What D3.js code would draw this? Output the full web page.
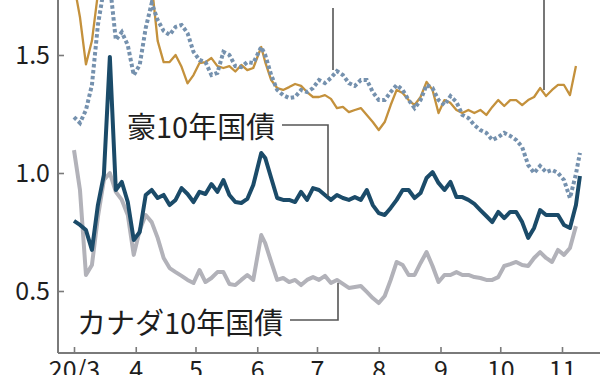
<!DOCTYPE html>
<html><head><meta charset="utf-8">
<script src="https://cdn.jsdelivr.net/npm/d3@7"></script>
<style>
html,body{margin:0;padding:0;background:#fff;}
svg{display:block;}
text{font-family:"Noto Sans CJK JP","Noto Sans",sans-serif;fill:#1e1e1e;}
</style></head>
<body>
<svg id="chart" width="600" height="375"></svg>
<script>
const dates = ["2020-03-01","2020-03-04","2020-03-07","2020-03-10","2020-03-13","2020-03-16","2020-03-19","2020-03-22","2020-03-25","2020-03-28","2020-03-31",
"2020-04-03","2020-04-06","2020-04-09","2020-04-12","2020-04-15","2020-04-18","2020-04-21","2020-04-24","2020-04-27","2020-04-30",
"2020-05-03","2020-05-06","2020-05-09","2020-05-12","2020-05-15","2020-05-18","2020-05-21","2020-05-24","2020-05-27","2020-05-30",
"2020-06-03","2020-06-05","2020-06-08","2020-06-11","2020-06-14","2020-06-17","2020-06-20","2020-06-23","2020-06-26","2020-06-29",
"2020-07-02","2020-07-05","2020-07-08","2020-07-11","2020-07-14","2020-07-17","2020-07-20","2020-07-23","2020-07-26","2020-07-29",
"2020-08-01","2020-08-04","2020-08-07","2020-08-10","2020-08-13","2020-08-16","2020-08-19","2020-08-22","2020-08-25","2020-08-28","2020-08-31",
"2020-09-03","2020-09-06","2020-09-09","2020-09-12","2020-09-15","2020-09-18","2020-09-21","2020-09-24","2020-09-27","2020-09-30",
"2020-10-03","2020-10-06","2020-10-09","2020-10-12","2020-10-15","2020-10-18","2020-10-21","2020-10-24","2020-10-27","2020-10-30",
"2020-11-02","2020-11-05","2020-11-08","2020-11-10"];

// gold solid series (upper, partly above the visible area)
const goldSeries = [1.80,1.66,1.46,1.56,1.76,1.86,1.92,1.88,1.84,1.90,1.86,
1.82,1.85,1.80,1.56,1.47,1.47,1.50,1.45,1.38,1.415,
1.466,1.47,1.487,1.453,1.445,1.453,1.43,1.458,1.436,1.445,
1.534,1.47,1.394,1.36,1.352,1.364,1.377,1.369,1.343,1.322,
1.322,1.33,1.314,1.275,1.28,1.258,1.267,1.275,1.246,1.216,
1.182,1.216,1.288,1.352,1.339,1.309,1.288,1.322,1.386,1.352,1.254,
1.309,1.297,1.267,1.254,1.267,1.254,1.267,1.246,1.28,1.309,
1.284,1.309,1.309,1.288,1.309,1.322,1.36,1.326,1.352,1.373,
1.373,1.33,1.453,null];

// dotted steel-blue series
const dottedSeries = [1.237,1.212,1.267,1.373,1.627,1.78,1.80,1.564,1.597,1.542,1.415,
1.458,1.614,1.72,1.648,1.602,1.585,1.619,1.627,1.593,1.513,
1.479,1.47,1.415,1.424,1.513,1.50,1.453,1.449,1.47,1.466,
1.534,1.50,1.415,1.352,1.33,1.318,1.322,1.352,1.343,1.36,
1.394,1.381,1.403,1.432,1.415,1.381,1.369,1.394,1.394,1.343,
1.309,1.309,1.343,1.373,1.352,1.309,1.275,1.309,1.373,1.36,1.309,
1.288,1.326,1.301,1.246,1.233,1.203,1.182,1.17,1.14,1.152,
1.17,1.157,1.14,1.11,1.034,1.0,1.03,1.004,1.013,1.0,
0.97,0.894,0.996,1.085];

// 豪10年国債
const ausSeries = [0.797,0.78,0.758,0.674,0.864,0.992,1.492,0.928,0.962,0.877,0.716,
0.75,0.907,0.928,0.894,0.907,0.864,0.886,0.936,0.911,0.877,
0.92,0.911,0.953,0.92,0.97,0.907,0.877,0.873,0.89,0.949,
1.085,1.064,0.979,0.894,0.886,0.886,0.877,0.92,0.886,0.936,
0.928,0.907,0.886,0.907,0.894,0.886,0.898,0.886,0.928,0.864,
0.83,0.822,0.852,0.886,0.928,0.928,0.894,0.915,0.979,1.004,0.958,
0.928,0.962,0.898,0.898,0.886,0.869,0.843,0.818,0.792,0.835,
0.809,0.835,0.835,0.792,0.725,0.767,0.843,0.822,0.822,0.822,
0.78,0.767,0.864,0.987];

// カナダ10年国債
const canSeries = [1.097,0.928,0.568,0.61,0.814,0.97,1.0,0.92,0.886,0.822,0.653,
0.758,0.822,0.792,0.725,0.64,0.597,0.58,0.564,0.547,0.534,
0.589,0.538,0.555,0.58,0.58,0.53,0.525,0.547,0.568,0.547,
0.737,0.703,0.623,0.547,0.555,0.538,0.547,0.525,0.547,0.559,
0.547,0.564,0.534,0.547,0.53,0.513,0.517,0.521,0.496,0.47,
0.449,0.479,0.547,0.623,0.61,0.568,0.568,0.619,0.665,0.606,0.538,
0.568,0.568,0.58,0.568,0.568,0.559,0.555,0.547,0.547,0.559,
0.606,0.614,0.623,0.61,0.606,0.64,0.665,0.64,0.623,0.674,
0.653,0.682,0.775,null];

const xTickDates = ["2020-03-01","2020-04-01","2020-05-01","2020-06-01","2020-07-01","2020-08-01","2020-09-01","2020-10-01","2020-11-01"];
const xTickLabels = ["20/3","4","5","6","7","8","9","10","11"];
const yTickValues = [0.5,1.0,1.5];
const yTickLabels = ["0.5","1.0","1.5"];

const parse = d3.timeParse("%Y-%m-%d");
const svg = d3.select("#chart");

const x = d3.scaleTime()
  .domain([parse("2020-03-01"), parse("2020-11-01")])
  .range([74, 562]);
const y = d3.scaleLinear().domain([0.5, 1.5]).range([291, 55]);

const axisX0 = 58, axisY0 = 353;
const axisColor = "#7a7a7a";

// series lines
const lineGen = d3.line()
  .defined(d => d.v != null)
  .x(d => x(d.t)).y(d => y(d.v));
function rows(vals){ return dates.map((s,i)=>({t:parse(s), v:vals[i]})); }

const plot = svg.append("g");
plot.append("path").datum(rows(canSeries)).attr("d", lineGen)
  .attr("fill","none").attr("stroke","#b2b2b9").attr("stroke-width",4).attr("stroke-linejoin","round");
plot.append("path").datum(rows(ausSeries)).attr("d", lineGen)
  .attr("fill","none").attr("stroke","#1b4b69").attr("stroke-width",4).attr("stroke-linejoin","round");
plot.append("path").datum(rows(goldSeries)).attr("d", lineGen)
  .attr("fill","none").attr("stroke","#c4913c").attr("stroke-width",2.3).attr("stroke-linejoin","round");
plot.append("path").datum(rows(dottedSeries)).attr("d", lineGen)
  .attr("fill","none").attr("stroke","#7591ae").attr("stroke-width",4)
  .attr("stroke-dasharray","3.5,2.5");

// axes frame
svg.append("line").attr("x1",axisX0).attr("x2",axisX0).attr("y1",0).attr("y2",axisY0)
  .attr("stroke",axisColor).attr("stroke-width",2);
svg.append("line").attr("x1",axisX0).attr("x2",600).attr("y1",axisY0).attr("y2",axisY0)
  .attr("stroke",axisColor).attr("stroke-width",2);

const xAxis = d3.axisBottom(x)
  .tickValues(xTickDates.map(parse))
  .tickFormat((d,i)=>xTickLabels[i])
  .tickSize(-6).tickPadding(8);
const gx = svg.append("g").attr("transform",`translate(0,${axisY0})`).call(xAxis);
gx.select(".domain").remove();
gx.selectAll(".tick line").attr("stroke",axisColor).attr("stroke-width",1.6);
gx.selectAll(".tick text").attr("font-size",25).attr("fill","#1e1e1e")
  .attr("font-family",'"Noto Sans CJK JP","Noto Sans",sans-serif');

const yAxis = d3.axisLeft(y)
  .tickValues(yTickValues)
  .tickFormat((d,i)=>yTickLabels[i])
  .tickSize(-6).tickPadding(8);
const gy = svg.append("g").attr("transform",`translate(${axisX0},0)`).call(yAxis);
gy.select(".domain").remove();
gy.selectAll(".tick line").attr("stroke",axisColor).attr("stroke-width",1.6);
gy.selectAll(".tick text").attr("font-size",25).attr("fill","#1e1e1e")
  .attr("font-family",'"Noto Sans CJK JP","Noto Sans",sans-serif');

// annotations
const leaderColor = "#555";
svg.append("text").attr("x",127).attr("y",125).attr("dominant-baseline","central")
  .attr("font-size",29).text("豪10年国債");
svg.append("path").attr("d","M282,125H328V196").attr("fill","none")
  .attr("stroke",leaderColor).attr("stroke-width",1.6);

svg.append("text").attr("x",77).attr("y",321).attr("dominant-baseline","central")
  .attr("font-size",29).text("カナダ10年国債");
svg.append("path").attr("d","M290,320H338V283").attr("fill","none")
  .attr("stroke",leaderColor).attr("stroke-width",1.6);

// leader lines of labels above the visible area
svg.append("path").attr("d","M333,8V70").attr("stroke",leaderColor).attr("stroke-width",1.6);
svg.append("path").attr("d","M544,0V90").attr("stroke",leaderColor).attr("stroke-width",1.6);
</script>
</body></html>
